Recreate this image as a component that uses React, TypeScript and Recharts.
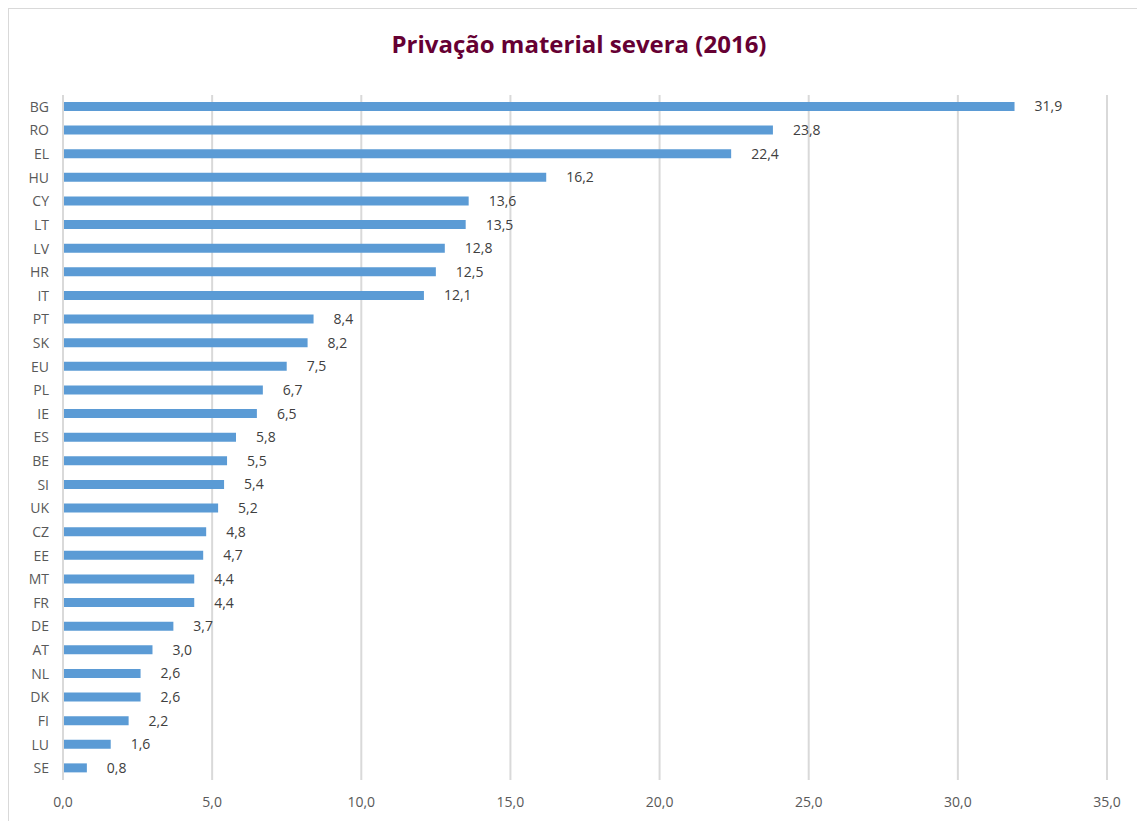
import React from "react";
import {
  BarChart,
  Bar,
  XAxis,
  YAxis,
  CartesianGrid,
  LabelList,
} from "recharts";

const countries = [
  "BG", "RO", "EL", "HU", "CY", "LT", "LV", "HR", "IT", "PT",
  "SK", "EU", "PL", "IE", "ES", "BE", "SI", "UK", "CZ", "EE",
  "MT", "FR", "DE", "AT", "NL", "DK", "FI", "LU", "SE",
];

const values = [
  31.9, 23.8, 22.4, 16.2, 13.6, 13.5, 12.8, 12.5, 12.1, 8.4,
  8.2, 7.5, 6.7, 6.5, 5.8, 5.5, 5.4, 5.2, 4.8, 4.7,
  4.4, 4.4, 3.7, 3.0, 2.6, 2.6, 2.2, 1.6, 0.8,
];

const xTicks = [0, 5, 10, 15, 20, 25, 30, 35];

const fmt = (v: number) => Number(v).toFixed(1).replace(".", ",");

const FONT = "'Open Sans', 'Noto Sans', sans-serif";

export default function App() {
  const data = countries.map((c, i) => ({ country: c, value: values[i] }));

  return (
    <div
      style={{
        position: "relative",
        width: 1145,
        height: 820,
        border: "1px solid #d9d9d9",
        boxSizing: "border-box",
        background: "#fff",
        fontFamily: FONT,
      }}
    >
      <style>{`body{overflow:hidden}`}</style>
      {/* title */}
      <div
        style={{
          position: "absolute",
          top: 18,
          left: 0,
          width: 1140,
          textAlign: "center",
          fontSize: 24,
          fontWeight: 700,
          color: "#660033",
        }}
      >
        Privação material severa (2016)
      </div>

      <BarChart
        width={1137}
        height={812}
        data={data}
        layout="vertical"
        margin={{ top: 86, right: 39, bottom: 0, left: 0 }}
        barCategoryGap={0}
      >
        <CartesianGrid horizontal={false} stroke="#d9d9d9" strokeWidth={2} />
        <XAxis
          type="number"
          domain={[0, 35]}
          ticks={xTicks}
          tickFormatter={fmt}
          axisLine={false}
          tickLine={false}
          tickMargin={11}
          height={41}
          tick={{ fill: "#595959", fontSize: 14, fontFamily: FONT }}
        />
        <YAxis
          type="category"
          dataKey="country"
          width={54}
          axisLine={{ stroke: "#d9d9d9", strokeWidth: 2 }}
          tickLine={false}
          tickMargin={8}
          interval={0}
          tick={{ fill: "#595959", fontSize: 14, fontFamily: FONT }}
        />
        <Bar dataKey="value" fill="#5b9bd5" barSize={9} isAnimationActive={false}>
          <LabelList
            dataKey="value"
            position="right"
            offset={20}
            formatter={(v: any) => fmt(v)}
            style={{ fill: "#404040", fontSize: 14, fontFamily: FONT }}
          />
        </Bar>
      </BarChart>
    </div>
  );
}
